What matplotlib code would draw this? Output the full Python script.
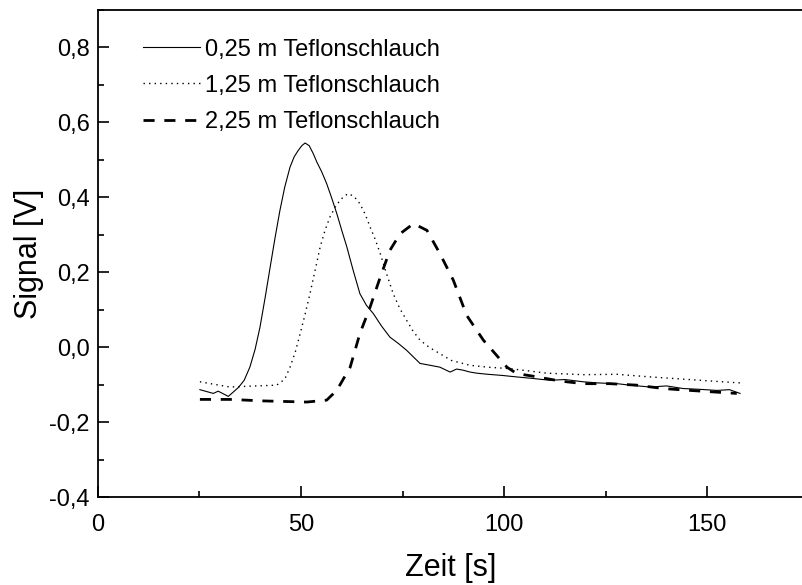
import numpy as np
import matplotlib.pyplot as plt
from matplotlib.ticker import MultipleLocator, FuncFormatter

plt.rcParams['font.family'] = ['Liberation Sans', 'DejaVu Sans']

# 0,25 m Teflonschlauch
t1 = [25.1, 28.4, 29.6, 32.1, 34.6, 36.0, 37.4, 38.7, 39.9, 41.2, 42.4, 43.6,
      44.8, 46.0, 47.3, 48.3, 49.3, 50.2, 51.0, 52.0, 53.0, 53.9, 55.1, 56.3,
      57.5, 58.8, 60.0, 61.3, 62.9, 64.5, 66.1, 67.8, 69.8, 71.9, 74.0, 76.0,
      77.6, 79.3, 81.8, 84.2, 86.7, 88.3, 89.9, 91.6, 93.3, 96.0, 99.5, 103.1,
      107.0, 111.3, 115.0, 119.5, 123.0, 127.8, 131.0, 136.0, 140.0, 144.1,
      148.0, 152.4, 155.5, 158.1]
s1 = [-0.113, -0.123, -0.117, -0.131, -0.107, -0.088, -0.053, -0.005, 0.054,
      0.135, 0.214, 0.292, 0.365, 0.428, 0.481, 0.508, 0.525, 0.538, 0.545,
      0.538, 0.517, 0.494, 0.468, 0.437, 0.400, 0.357, 0.313, 0.267, 0.203,
      0.143, 0.112, 0.090, 0.057, 0.027, 0.010, -0.008, -0.025, -0.043, -0.048,
      -0.053, -0.066, -0.058, -0.061, -0.066, -0.069, -0.072, -0.075, -0.079,
      -0.083, -0.088, -0.086, -0.092, -0.095, -0.097, -0.101, -0.106, -0.103,
      -0.110, -0.112, -0.115, -0.113, -0.123]

# 1,25 m Teflonschlauch
t2 = [25.1, 32.5, 36.6, 44.0, 46.0, 47.3, 48.6, 49.8, 51.0, 52.2, 53.5, 54.7,
      55.9, 57.1, 58.4, 59.6, 60.7, 61.7, 63.1, 64.5, 65.8, 67.0, 68.3, 69.5,
      71.1, 72.7, 74.3, 76.0, 77.6, 79.3, 81.7, 84.2, 87.0, 91.6, 96.0, 101.5,
      110.5, 119.5, 127.8, 136.0, 144.2, 152.4, 158.1]
s2 = [-0.092, -0.106, -0.104, -0.101, -0.085, -0.053, -0.012, 0.037, 0.088,
      0.143, 0.207, 0.267, 0.312, 0.347, 0.374, 0.392, 0.404, 0.410, 0.402,
      0.383, 0.355, 0.321, 0.287, 0.250, 0.195, 0.143, 0.104, 0.072, 0.043,
      0.019, -0.001, -0.017, -0.035, -0.048, -0.053, -0.057, -0.069, -0.073,
      -0.072, -0.079, -0.085, -0.091, -0.095]

# 2,25 m Teflonschlauch
t3 = [25.1, 32.5, 40.7, 51.4, 56.3, 58.8, 62.1, 64.5, 67.0, 69.5, 71.9, 74.4,
      77.7, 81.0, 84.2, 87.5, 90.8, 94.9, 100.7, 103.1, 107.1, 113.8, 119.5,
      126.1, 132.7, 139.2, 145.8, 151.5, 157.3]
s3 = [-0.139, -0.139, -0.143, -0.146, -0.141, -0.115, -0.053, 0.037, 0.107,
      0.187, 0.259, 0.303, 0.330, 0.312, 0.250, 0.179, 0.085, 0.019, -0.053,
      -0.070, -0.077, -0.090, -0.097, -0.097, -0.101, -0.110, -0.115, -0.119,
      -0.123]

fig = plt.figure(figsize=(8.03, 5.85), dpi=100)
ax = fig.add_axes([0.122, 0.150, 0.878, 0.833])

ax.plot(t1, s1, color='black', lw=0.8, label='0,25 m Teflonschlauch')
ax.plot(t2, s2, color='black', lw=1.0, dashes=(1, 3), label='1,25 m Teflonschlauch')
ax.plot(t3, s3, color='black', lw=2.0, dashes=(4, 3.5), label='2,25 m Teflonschlauch')

ax.set_xlim(0, 173.6)
ax.set_ylim(-0.4, 0.9)
ax.xaxis.set_major_locator(MultipleLocator(50))
ax.xaxis.set_minor_locator(MultipleLocator(25))
ax.yaxis.set_major_locator(MultipleLocator(0.2))
ax.yaxis.set_minor_locator(MultipleLocator(0.1))

ax.yaxis.set_major_formatter(FuncFormatter(lambda v, p: ('%.1f' % v).replace('.', ',')))
ax.xaxis.set_major_formatter(FuncFormatter(lambda v, p: '%d' % round(v)))

ax.tick_params(which='both', direction='in', width=1.2, labelsize=17,
               top=False, right=False)
ax.tick_params(which='major', length=8, pad=6)
ax.tick_params(axis='x', which='major', pad=12)
ax.tick_params(which='minor', length=4.5)
for side in ['left', 'bottom', 'top']:
    ax.spines[side].set_linewidth(1.3)
ax.spines['right'].set_visible(False)

ax.set_xlabel('Zeit [s]', fontsize=22, labelpad=12)
ax.set_ylabel('Signal [V]', fontsize=22, labelpad=4)

ax.legend(loc='upper left', bbox_to_anchor=(0.034, 0.985), frameon=False,
          fontsize=17, handlelength=2.4, handletextpad=0.2, labelspacing=0.6)

fig.savefig('out.png', dpi=100)
